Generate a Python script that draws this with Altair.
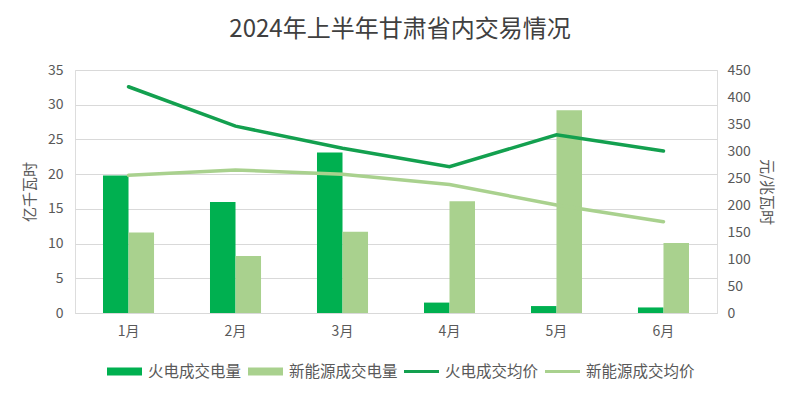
import altair as alt
import pandas as pd

# ---- data ----
months = ["1月", "2月", "3月", "4月", "5月", "6月"]
thermal_volume = [19.8, 16.0, 23.1, 1.5, 1.0, 0.8]        # 亿千瓦时
renewable_volume = [11.6, 8.2, 11.7, 16.1, 29.2, 10.1]    # 亿千瓦时
thermal_price = [419, 346, 305, 271, 330, 300]            # 元/兆瓦时
renewable_price = [255, 265, 257, 238, 200, 169]          # 元/兆瓦时
series = ["火电成交电量", "新能源成交电量", "火电成交均价", "新能源成交均价"]
colors = ["#00B050", "#A9D18E", "#13A04F", "#A9D18E"]
left_ticks = [0, 5, 10, 15, 20, 25, 30, 35]
right_ticks = [0, 50, 100, 150, 200, 250, 300, 350, 400, 450]
chart_title = "2024年上半年甘肃省内交易情况"

FONT = "Noto Sans CJK SC"
TXT = "#595959"

bars_df = pd.DataFrame({
    "月份": months * 2,
    "系列": [series[0]] * 6 + [series[1]] * 6,
    "值": thermal_volume + renewable_volume,
})
lines_df = pd.DataFrame({
    "月份": months * 2,
    "系列": [series[2]] * 6 + [series[3]] * 6,
    "值": thermal_price + renewable_price,
})

x_enc = alt.X(
    "月份:N", sort=months,
    scale=alt.Scale(paddingInner=0.523, paddingOuter=0.2617),
    axis=alt.Axis(title=None, labelAngle=0, ticks=False, domain=True,
                  domainColor="#d9d9d9", labelPadding=11, labelFontSize=14,
                  labelColor=TXT, labelFont=FONT, grid=False),
)
color_scale = alt.Scale(domain=series, range=colors)

bar_sym = "M-1,-0.23H1V0.23H-1Z"
line_sym = "M-1,-0.085H1V0.085H-1Z"

legend = alt.Legend(
    title=None, orient="none", direction="horizontal", columns=4,
    legendX=32, legendY=284, columnPadding=6, labelOffset=6,
    symbolSize=1225, symbolStrokeWidth=0,
    symbolType={"expr": f"(datum.value == '{series[2]}' || datum.value == '{series[3]}') ? '{line_sym}' : '{bar_sym}'"},
    labelFontSize=15.5, labelColor=TXT, labelFont=FONT, labelLimit=300,
)

bars = alt.Chart(bars_df).mark_bar().encode(
    x=x_enc,
    xOffset=alt.XOffset("系列:N", sort=series[:2],
                        scale=alt.Scale(paddingInner=0, paddingOuter=0)),
    y=alt.Y("值:Q", scale=alt.Scale(domain=[0, 35], nice=False),
            axis=alt.Axis(values=left_ticks, title="亿千瓦时", orient="left",
                          domain=False, ticks=False, labelPadding=12,
                          labelFontSize=14, labelColor=TXT, labelFont=FONT,
                          grid=True, gridColor="#d9d9d9", gridWidth=1,
                          titleFontSize=15, titleColor=TXT, titleFont=FONT,
                          titleFontWeight="normal", titlePadding=10)),
    color=alt.Color("系列:N", scale=color_scale, legend=legend),
)

lines = alt.Chart(lines_df).mark_line(strokeWidth=3.5, strokeCap="round").encode(
    x=x_enc,
    y=alt.Y("值:Q", scale=alt.Scale(domain=[0, 450], nice=False),
            axis=alt.Axis(values=right_ticks, title="元/兆瓦时", orient="right",
                          domain=False, ticks=False, labelPadding=10,
                          labelFontSize=14, labelColor=TXT, labelFont=FONT,
                          grid=False, titleFontSize=15, titleColor=TXT,
                          titleFont=FONT, titleFontWeight="normal",
                          titlePadding=8)),
    color=alt.Color("系列:N", scale=color_scale),
)

chart = alt.layer(bars, lines).resolve_scale(y="independent").properties(
    width=642, height=243,
    autosize=alt.AutoSizeParams(type="none"),
    padding={"left": 67, "top": 62, "right": 75, "bottom": 76},
    title=alt.Title(chart_title, fontSize=24, font=FONT, fontWeight="normal",
                    color="#404040", anchor="middle", dx=4, offset=21),
).configure_view(stroke=None).configure(background="white")

chart.save("out.html", embed_options={"renderer": "svg", "actions": False})
